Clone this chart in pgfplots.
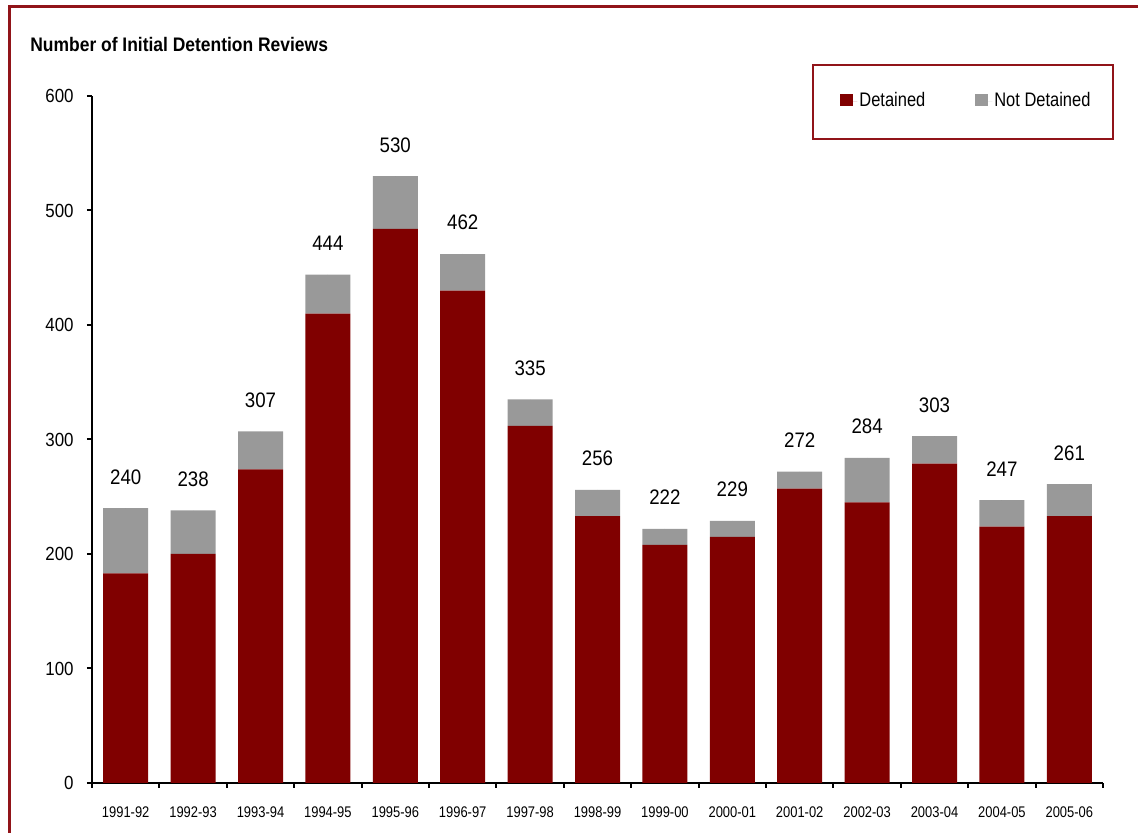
\documentclass[border=0pt]{standalone}
\usepackage{fontspec}
\setmainfont{Liberation Sans}
\newfontfamily\fN[FakeStretch=0.84]{Liberation Sans}
\newfontfamily\fT[FakeStretch=0.89]{Liberation Sans}
\usepackage{pgfplots}
\usepackage{pgfplotstable}
\pgfplotsset{compat=1.18}
\definecolor{detred}{RGB}{128,0,0}
\definecolor{ndgray}{RGB}{153,153,153}
\definecolor{framered}{RGB}{145,20,25}
\pgfplotstableread{
x det nd tot
0 183 57 240
1 200 38 238
2 274 33 307
3 410 34 444
4 484 46 530
5 430 32 462
6 312 23 335
7 233 23 256
8 208 14 222
9 215 14 229
10 257 15 272
11 245 39 284
12 279 24 303
13 224 23 247
14 233 28 261
}\datatable
\pgfplotsset{
  frameaxis/.style={
    at={(46pt,25pt)}, anchor=south west,
    scale only axis, width=505.5pt, height=343.5pt,
    xmin=-0.5, xmax=14.5, ymin=0, ymax=600,
    /pgf/number format/assume math mode=true,
    clip=false,
  }
}
\begin{document}
\begin{tikzpicture}[x=1pt,y=1pt]
\useasboundingbox (0,0) rectangle (569,416.5);
\draw[framered, line width=1.5pt] (4.75,-20) rectangle (600,413.25);
\node[anchor=base west, inner sep=0pt, font=\fT\bfseries\fontsize{9.8}{11}\selectfont] at (15,390.5) {Number of Initial Detention Reviews};
\begin{axis}[
  frameaxis,
  ybar stacked, bar width=22.5pt,
  ytick={0,100,...,600},
  xtick={0,...,14},
  xticklabels={1991-92,1992-93,1993-94,1994-95,1995-96,1996-97,1997-98,1998-99,1999-00,2000-01,2001-02,2002-03,2003-04,2004-05,2005-06},
  minor xtick={-0.5,0.5,...,14.5},
  major x tick style={draw=none},
  axis x line*=bottom, axis y line*=left,
  axis line style={line width=1pt, black},
  tick align=outside,
  major tick length=2.5pt, minor tick length=2.5pt,
  every tick/.style={line width=1pt, black},
  minor x tick style={line width=1pt, black},
  yticklabel style={anchor=east, inner sep=0pt, xshift=-6.5pt, font=\fT\fontsize{9.5}{11}\selectfont},
  xticklabel style={anchor=north, inner sep=0pt, yshift=-9pt, font=\fN\fontsize{7.7}{9}\selectfont},
  legend columns=2,
  legend style={draw=none, fill=none, at={(axis description cs:0.7399,0.9927)}, anchor=west,
    inner sep=0pt, nodes={inner sep=1pt}, font=\fN\fontsize{9.8}{11}\selectfont,
    /tikz/every even column/.append style={column sep=24pt}},
  legend image code/.code={\fill[#1] (0pt,-2.6pt) rectangle (6.5pt,3.7pt); \path (0pt,0pt) -- (8.5pt,0pt);},
]
\addplot[fill=detred, draw=none] table[x=x, y=det] {\datatable};
\addplot[fill=ndgray, draw=none] table[x=x, y=nd] {\datatable};
\legend{Detained, Not Detained}
\end{axis}
\begin{axis}[frameaxis, axis lines=none, xtick=\empty, ytick=\empty]
\addplot[only marks, mark=*, mark size=0pt, point meta=explicit, nodes near coords,
  nodes near coords style={anchor=base, inner sep=0pt, yshift=12pt, font=\fT\fontsize{10.5}{12}\selectfont, black}]
  table[x=x, y=tot, meta=tot] {\datatable};
\end{axis}
\draw[framered, line width=1pt] (406.5,347) rectangle (556.5,384);
\end{tikzpicture}
\end{document}
